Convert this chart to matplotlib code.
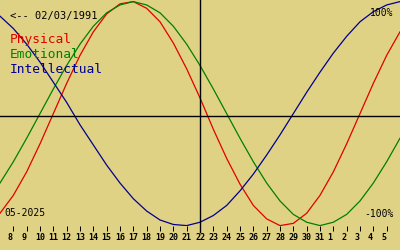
#!/usr/bin/env python3
"""Biorhythm chart for 05-2025, born 02/03/1991."""

import matplotlib

matplotlib.use("Agg")
import matplotlib.pyplot as plt

# day of month (32.. = June 1..)
days = list(range(7, 38))
physical = [-89, -73, -52, -27, 0, 27, 52, 73, 89, 98, 100, 94, 82, 63, 40, 14,
            -14, -40, -63, -82, -94, -100, -98, -89, -73, -52, -27, 0, 27, 52, 73]
emotional = [-62, -43, -22, 0, 22, 43, 62, 78, 90, 97, 100, 97, 90, 78, 62, 43,
             22, 0, -22, -43, -62, -78, -90, -97, -100, -97, -90, -78, -62, -43, -22]
intellectual = [87, 76, 62, 46, 28, 10, -10, -28, -46, -62, -76, -87, -95, -99, -100, -97,
                -91, -82, -69, -54, -37, -19, 0, 19, 37, 54, 69, 82, 91, 97, 100]
tick_days = list(range(8, 37))
tick_labels = [f"{d if d <= 31 else d - 31:<2}" for d in tick_days]
today = 22

birth_label = "<-- 02/03/1991"
month_label = "05-2025"
series_names = ["Physical", "Emotional", "Intellectual"]
colors = ["#E00000", "#008000", "#000090"]

BG = "#E0D284"
MONO = "DejaVu Sans Mono"
W, H = 400, 250

fig = plt.figure(figsize=(4, 2.5), dpi=100, facecolor=BG)
ax = fig.add_axes([0, 24 / H, 1, 226 / H], facecolor=BG)

for values, color in zip([physical, emotional, intellectual], colors):
    ax.plot(days, values, color=color, lw=0.9, solid_joinstyle="miter")

ax.axhline(-1.7, color="black", lw=1.0)
ax.axvline(today, ymin=-6 / 226, ymax=1, color="black", lw=1.0, clip_on=False)

ax.set_xlim(7, 37)
ax.set_ylim(-100.36, 101.43)
ax.set_yticks([])
ax.set_xticks(tick_days)
ax.set_xticklabels(tick_labels, fontfamily=MONO, fontweight="bold", fontsize=6)
ax.tick_params(axis="x", direction="out", length=3.6, width=0.72, pad=1.8, colors="black")
for spine in ax.spines.values():
    spine.set_visible(False)


def px(x, y):
    return x / W, 1 - y / H


fig.text(*px(10, 19.5), birth_label, fontfamily=MONO, fontsize=7.5, color="black", va="baseline")
for i, (name, color) in enumerate(zip(series_names, colors)):
    fig.text(*px(10, 43 + 14.8 * i), name, fontfamily=MONO, fontsize=9.3, color=color, va="baseline")

fig.text(*px(393, 15.7), "100%", fontfamily=MONO, fontsize=7, color="black", ha="right", va="baseline")
fig.text(*px(394, 216.7), "-100%", fontfamily=MONO, fontsize=7, color="black", ha="right", va="baseline")
fig.text(*px(4, 215.7), month_label, fontfamily=MONO, fontsize=7, color="black", va="baseline")

fig.savefig("out.png", dpi=100, facecolor=BG)
